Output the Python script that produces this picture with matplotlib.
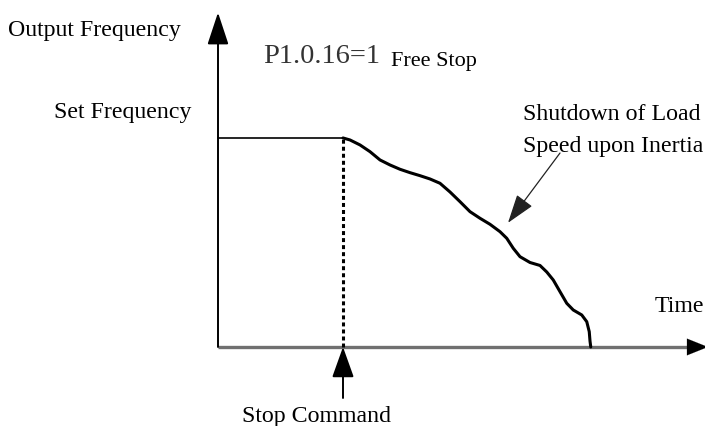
import numpy as np
import matplotlib
matplotlib.use("Agg")
import matplotlib.pyplot as plt

# schematic values: time in s, frequency in Hz
set_freq = 50.0
stop_time = 5.0
coast_t = [5.0, 5.28, 5.68, 6.08, 6.48, 6.88, 7.28, 7.68, 8.08, 8.48, 8.88,
           9.28, 9.68, 10.08, 10.48, 10.88, 11.28, 11.55, 11.81, 12.08,
           12.48, 12.88, 13.15, 13.41, 13.68, 13.95, 14.21, 14.55, 14.75,
           14.85, 14.88, 14.91]
coast_f = [50.0, 49.52, 48.33, 46.72, 44.74, 43.54, 42.51, 41.70, 40.98,
           40.19, 39.16, 37.08, 34.76, 32.37, 30.79, 29.35, 27.58, 26.0,
           23.61, 21.60, 20.21, 19.50, 17.94, 16.03, 13.23, 10.45, 8.85,
           7.66, 6.05, 3.66, 1.44, 0.0]

serif = ["Liberation Serif", "DejaVu Serif"]

fig = plt.figure(figsize=(7.05, 4.26), dpi=100)
ax = fig.add_axes([0, 0, 1, 1])
ax.set_xlim(-8.72, 19.48)
ax.set_ylim(-18.9, 83.0)
ax.axis("off")

# axes arrows
ax.annotate("", xy=(0, 80.0), xytext=(0, 0), annotation_clip=False,
            arrowprops=dict(arrowstyle="-|>,head_length=1.0,head_width=0.33",
                            mutation_scale=20, lw=1.4, color="black",
                            shrinkA=0, shrinkB=0))
ax.plot([0, 19.0], [0, 0], color="#707070", lw=2.4, solid_capstyle="butt")
ax.annotate("", xy=(19.6, 0), xytext=(18.9, 0), annotation_clip=False,
            arrowprops=dict(arrowstyle="-|>,head_length=0.75,head_width=0.3",
                            mutation_scale=20, lw=0.1, color="black",
                            shrinkA=0, shrinkB=0))

# set frequency and coasting curve
ax.plot([0, stop_time], [set_freq, set_freq], color="black", lw=1.2)
ax.plot([stop_time, stop_time], [0, set_freq], color="black", lw=2.2,
        linestyle=(0, (1.3, 1.0)))
ax.plot(coast_t, coast_f, color="black", lw=2.2, solid_joinstyle="round",
        solid_capstyle="round")

# stop command arrow
ax.annotate("", xy=(stop_time, 0), xytext=(stop_time, -12.2),
            arrowprops=dict(arrowstyle="-|>,head_length=0.95,head_width=0.34",
                            mutation_scale=20, lw=1.4, color="black",
                            shrinkA=0, shrinkB=0))
# inertia arrow
ax.annotate("", xy=(11.6, 29.7), xytext=(13.68, 46.4),
            arrowprops=dict(arrowstyle="-|>,head_length=0.9,head_width=0.3",
                            mutation_scale=20, lw=0.9, color="#222222",
                            shrinkA=0, shrinkB=0))

# labels
fs = 17.2
ax.text(-8.4, 74.4, "Output Frequency", fontsize=fs, family=serif,
        va="baseline")
ax.text(-1.04, 54.8, "Set Frequency", fontsize=fs, family=serif,
        va="baseline", ha="right")
ax.text(1.8, 67.9, "P1.0.16=1", fontsize=20.5, family=serif, va="baseline",
        color="#333333")
ax.text(6.92, 67.2, "Free Stop", fontsize=16, family=serif, va="baseline")
ax.text(12.2, 54.3, "Shutdown of Load", fontsize=fs, family=serif,
        va="baseline")
ax.text(12.2, 46.65, "Speed upon Inertia", fontsize=fs, family=serif,
        va="baseline")
ax.text(17.45, 8.37, "Time", fontsize=fs, family=serif, va="baseline")
ax.text(3.94, -17.9, "Stop Command", fontsize=fs, family=serif,
        va="baseline", ha="center")

fig.savefig("out.png", dpi=100, facecolor="white")
